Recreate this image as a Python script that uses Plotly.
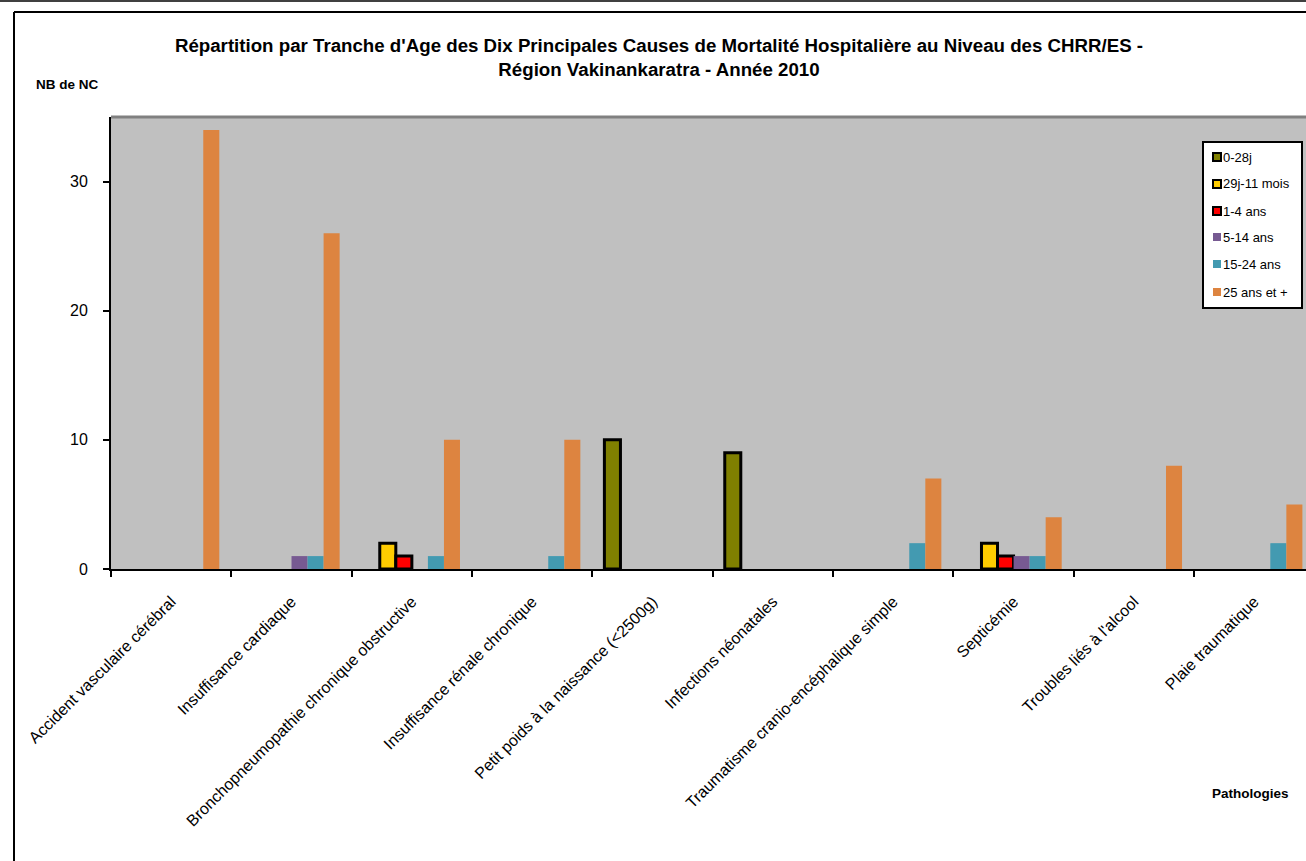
import plotly.graph_objects as go

# categories and counts per age group
pathologies = [
    "Accident vasculaire cérébral",
    "Insuffisance cardiaque",
    "Bronchopneumopathie chronique obstructive",
    "Insuffisance rénale chronique",
    "Petit poids à la naissance (<2500g)",
    "Infections néonatales",
    "Traumatisme cranio-encéphalique simple",
    "Septicémie",
    "Troubles liés à l'alcool",
    "Plaie traumatique",
]
age_groups = ["0-28j", "29j-11 mois", "1-4 ans", "5-14 ans", "15-24 ans", "25 ans et +"]

v_0_28j = [0, 0, 0, 0, 10, 9, 0, 0, 0, 0]
v_29j_11m = [0, 0, 2, 0, 0, 0, 0, 2, 0, 0]
v_1_4 = [0, 0, 1, 0, 0, 0, 0, 1, 0, 0]
v_5_14 = [0, 1, 0, 0, 0, 0, 0, 1, 0, 0]
v_15_24 = [0, 1, 1, 1, 0, 0, 2, 1, 0, 2]
v_25_plus = [34, 26, 10, 10, 0, 0, 7, 4, 8, 5]

series = [v_0_28j, v_29j_11m, v_1_4, v_5_14, v_15_24, v_25_plus]
colors = ["#808000", "#FFCC00", "#FF0000", "#775A92", "#439AB1", "#DD8440"]
outlined = [True, True, True, False, False, False]

W, H = 1306, 861
L, T, B = 111, 117, 292
PW, PH = W - L, H - T - B


def px(x):
    return (x - L) / PW


def py(y):
    return (H - B - y) / PH


fig = go.Figure()
for i, (name, vals) in enumerate(zip(age_groups, series)):
    fig.add_trace(go.Bar(
        x=pathologies, y=[v if v else None for v in vals], name=name,
        marker=dict(color=colors[i],
                    line=dict(color="black", width=3 if outlined[i] else 0)),
    ))

font = "Liberation Sans, Arial, sans-serif"
fig.update_layout(
    width=W, height=H,
    margin=dict(l=L, r=0, t=T, b=B),
    paper_bgcolor="white",
    plot_bgcolor="#C0C0C0",
    font=dict(family=font, color="black", size=12),
    barmode="group", bargap=0.2, bargroupgap=0,
    showlegend=False,
    title=dict(
        text="<b>Répartition par Tranche d'Age des Dix Principales Causes de Mortalité Hospitalière au Niveau des CHRR/ES -<br>Région Vakinankaratra - Année 2010</b>",
        xref="container", x=659 / W, xanchor="center",
        yref="container", y=1 - 52 / H, yanchor="top",
        font=dict(size=18.7, family=font),
    ),
    xaxis=dict(
        range=[-0.5, 9.43], tickangle=-45, tickson="boundaries",
        ticks="outside", ticklen=6, tickcolor="black", tickwidth=2,
        ticklabelstandoff=15,
        showline=True, linecolor="black", linewidth=2,
        showgrid=False, tickfont=dict(size=16),
    ),
    yaxis=dict(
        range=[0, 35], tickvals=[0, 10, 20, 30],
        ticks="outside", ticklen=6, tickcolor="black", tickwidth=2,
        ticklabelstandoff=12,
        showline=True, linecolor="black", linewidth=2,
        showgrid=False, zeroline=False, tickfont=dict(size=16),
    ),
)

fig.add_annotation(text="<b>NB de NC</b>", xref="paper", yref="paper",
                   x=px(67), y=py(85), xanchor="center", yanchor="middle",
                   showarrow=False, font=dict(size=13.5))
fig.add_annotation(text="<b>Pathologies</b>", xref="paper", yref="paper",
                   x=px(1250), y=py(793), xanchor="center", yanchor="middle",
                   showarrow=False, font=dict(size=13.5))

# legend box drawn by hand (Excel-style small squares)
fig.add_shape(type="rect", xref="paper", yref="paper",
              x0=px(1203), x1=px(1302), y0=py(308), y1=py(142),
              fillcolor="white", line=dict(color="black", width=2), layer="above")
item_y = [157, 184, 211, 237, 264, 292]
for i, name in enumerate(age_groups):
    yc = item_y[i]
    fig.add_shape(type="rect", xref="paper", yref="paper",
                  x0=px(1213), x1=px(1221), y0=py(yc + 4), y1=py(yc - 4),
                  fillcolor=colors[i], layer="above",
                  line=dict(color="black", width=2 if outlined[i] else 0))
    fig.add_annotation(text=name, xref="paper", yref="paper",
                       x=px(1221), y=py(yc), xanchor="left", yanchor="middle",
                       showarrow=False, font=dict(size=13))

# outer chart frame and gray top edge of plot area
fig.add_shape(type="line", xref="paper", yref="paper", x0=px(0), x1=px(1306), y0=py(1), y1=py(1),
              line=dict(color="black", width=1.5))
fig.add_shape(type="line", xref="paper", yref="paper", x0=px(14), x1=px(1306), y0=py(12), y1=py(12),
              line=dict(color="black", width=2))
fig.add_shape(type="line", xref="paper", yref="paper", x0=px(14), x1=px(14), y0=py(12), y1=py(870),
              line=dict(color="black", width=2))
fig.add_shape(type="line", xref="paper", yref="paper", x0=0, x1=1, y0=1, y1=1,
              line=dict(color="#808080", width=3))

fig.write_html("out.html", config={"displayModeBar": False},
               post_script="document.body.style.margin='0px';")
